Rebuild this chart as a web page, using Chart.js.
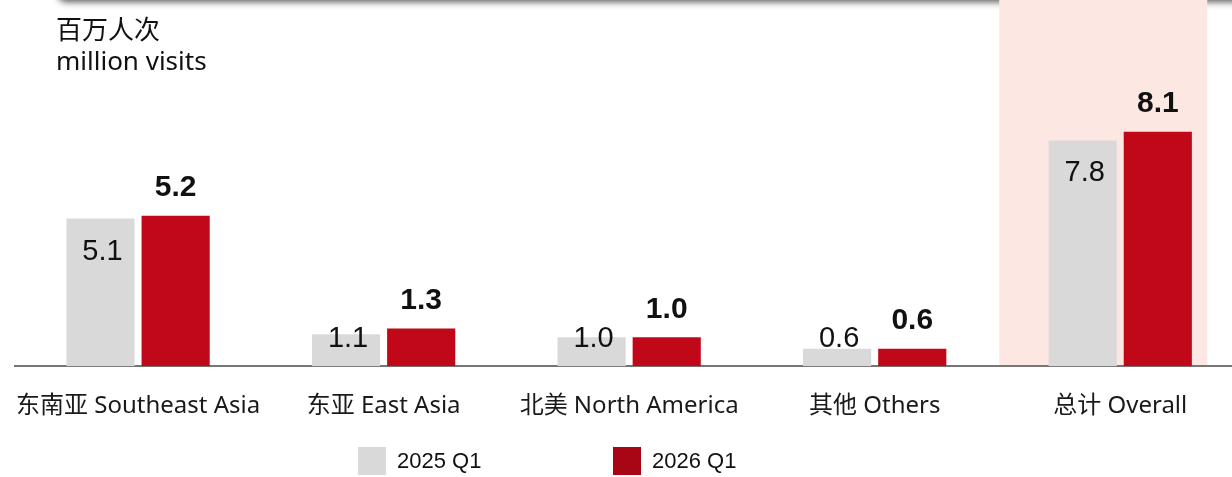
<!DOCTYPE html>
<html lang="zh-CN">

<head>
    <meta charset="UTF-8">
    <title>访问人次 2025 Q1 / 2026 Q1</title>
    <script src="https://cdn.jsdelivr.net/npm/chart.js"></script>
    <style>
        body {
            margin: 0;
            width: 1232px;
            height: 477px;
            overflow: hidden;
            background: #fff;
            position: relative;
        }

        .sombra {
            position: absolute;
            top: -20px;
            left: 58px;
            right: -20px;
            height: 20px;
            background: #fff;
            border-radius: 0 0 8px 8px;
            box-shadow: 0 2px 7px rgba(0, 0, 0, 0.65);
        }

        .unidade {
            position: absolute;
            left: 56px;
            top: 14px;
            font-family: "Noto Sans", "Noto Sans CJK SC", sans-serif;
            font-size: 26px;
            line-height: 31px;
            color: #111;
        }

        .grafico {
            position: absolute;
            left: -3px;
            top: 0;
        }

        .legenda {
            position: absolute;
            top: 447px;
            font-family: "Liberation Sans", Arial, sans-serif;
            font-size: 22px;
            line-height: 28px;
            color: #111;
        }

        .legenda i {
            display: inline-block;
            width: 28px;
            height: 28px;
            vertical-align: top;
            margin-right: 11px;
        }
    </style>
</head>

<body>
    <div class="sombra"></div>
    <canvas id="visitas" class="grafico" width="1246" height="477"></canvas>
    <div class="unidade">百万人次<br>million visits</div>
    <div class="legenda" style="left: 358px"><i style="background: #d9d9d9"></i>2025 Q1</div>
    <div class="legenda" style="left: 613px"><i style="background: #a80614"></i>2026 Q1</div>
</body>

</html>
<script>
    var regioes = ['东南亚 Southeast Asia', '东亚 East Asia', '北美 North America', '其他 Others', '总计 Overall'];
    var visitas2025 = [5.1, 1.1, 1.0, 0.6, 7.8];
    var visitas2026 = [5.2, 1.3, 1.0, 0.6, 8.1];

    // faixa rosa atrás da coluna do total
    var destaqueTotal = {
        id: 'destaqueTotal',
        beforeDraw: function (chart) {
            var ctx = chart.ctx;
            var x = chart.scales.x.getPixelForValue(regioes.length - 1);
            ctx.save();
            ctx.fillStyle = '#fde7e3';
            ctx.fillRect(x - 121, 0, 208, chart.chartArea.bottom);
            ctx.restore();
        }
    };

    // rótulos dos valores: cinza dentro da barra, vermelho em negrito acima
    var rotulos = {
        id: 'rotulos',
        afterDatasetsDraw: function (chart) {
            var ctx = chart.ctx;
            var base = chart.chartArea.bottom;
            ctx.save();
            ctx.textAlign = 'center';
            ctx.textBaseline = 'middle';
            ctx.fillStyle = '#111';

            ctx.font = '29px "Liberation Sans", Arial, sans-serif';
            chart.getDatasetMeta(0).data.forEach(function (barra, i) {
                var y = Math.min(barra.y + 33, base - 27);
                ctx.fillText(visitas2025[i].toFixed(1), barra.x + 2, y);
            });

            ctx.font = 'bold 30px "Liberation Sans", Arial, sans-serif';
            chart.getDatasetMeta(1).data.forEach(function (barra, i) {
                ctx.fillText(visitas2026[i].toFixed(1), barra.x, barra.y - 28);
            });
            ctx.restore();
        }
    };

    var grafico = new Chart(document.getElementById('visitas').getContext('2d'), {
        type: 'bar',
        data: {
            labels: regioes,
            datasets: [{
                label: '2025 Q1',
                data: visitas2025,
                backgroundColor: '#d9d9d9'
            }, {
                label: '2026 Q1',
                data: visitas2026,
                backgroundColor: '#c00818'
            }]
        },
        options: {
            responsive: false,
            animation: false,
            categoryPercentage: 0.612,
            barPercentage: 0.907,
            layout: {
                padding: { left: 10, right: 0, top: 0, bottom: 38 }
            },
            plugins: {
                legend: { display: false },
                tooltip: { enabled: false }
            },
            scales: {
                x: {
                    grid: { display: false },
                    border: { display: true, color: '#767676', width: 2 },
                    ticks: {
                        padding: 18,
                        maxRotation: 0,
                        minRotation: 0,
                        autoSkip: false,
                        color: '#1a1a1a',
                        font: { family: '"Noto Sans", "Noto Sans CJK SC", sans-serif', size: 24 }
                    }
                },
                y: {
                    display: false,
                    min: 0,
                    max: 12.65
                }
            }
        },
        plugins: [destaqueTotal, rotulos]
    });
</script>
